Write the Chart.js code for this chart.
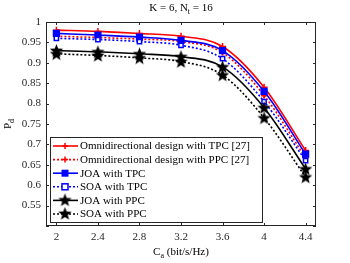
<!DOCTYPE html>
<html>
<head>
<meta charset="utf-8">
<script src="https://cdn.jsdelivr.net/npm/chart.js@4.4.0/dist/chart.umd.min.js"></script>
<style>
  html, body { margin: 0; padding: 0; background: #fff; }
  #wrap { width: 350px; height: 263px; }
</style>
</head>
<body>
<div id="wrap"><canvas id="canvas" width="350" height="263"></canvas></div>
<script>
const capacity = [2, 2.4, 2.8, 3.2, 3.6, 4, 4.4];
const omniTPC = [0.980, 0.977, 0.972, 0.965, 0.940, 0.840, 0.685];
const omniPPC = [0.965, 0.962, 0.958, 0.952, 0.925, 0.820, 0.667];
const joaTPC = [0.972, 0.968, 0.963, 0.955, 0.930, 0.830, 0.676];
const soaTPC = [0.960, 0.957, 0.952, 0.943, 0.910, 0.805, 0.660];
const joaPPC = [0.930, 0.927, 0.922, 0.915, 0.890, 0.790, 0.640];
const soaPPC = [0.922, 0.918, 0.912, 0.903, 0.870, 0.765, 0.620];
const xTicks = [2, 2.4, 2.8, 3.2, 3.6, 4, 4.4];

const FONT = '"Liberation Serif", "Times New Roman", serif';

// filled star marker (pentagram)
function makeStar(size, fill) {
    const c = document.createElement('canvas');
    c.width = size; c.height = size;
    const ctx = c.getContext('2d');
    const cx = size / 2, cy = size / 2 + 0.5;
    const ro = size / 2 - 0.5, ri = ro * 0.42;
    ctx.beginPath();
    for (let i = 0; i < 10; i++) {
        const r = i % 2 === 0 ? ro : ri;
        const a = -Math.PI / 2 + i * Math.PI / 5;
        ctx.lineTo(cx + r * Math.cos(a), cy + r * Math.sin(a));
    }
    ctx.closePath();
    ctx.fillStyle = fill;
    ctx.fill();
    return c;
}
const star = makeStar(15, '#000');

function toPoints(ys) {
    return capacity.map((x, i) => ({ x: x, y: ys[i] }));
}

const datasets = [
    { label: 'SOA with PPC', data: toPoints(soaPPC), borderColor: '#000', borderDash: [2, 2],
      pointStyle: star, legendMarker: 'star' },
    { label: 'JOA with PPC', data: toPoints(joaPPC), borderColor: '#000',
      pointStyle: star, legendMarker: 'star' },
    { label: 'SOA with TPC', data: toPoints(soaTPC), borderColor: '#0000ff', borderDash: [2, 2],
      pointStyle: 'rect', pointRadius: 3, pointBackgroundColor: '#fff', pointBorderColor: '#0000ff', pointBorderWidth: 1.5, legendMarker: 'openrect' },
    { label: 'JOA with TPC', data: toPoints(joaTPC), borderColor: '#0000ff',
      pointStyle: 'rect', pointRadius: 4, pointBackgroundColor: '#0000ff', pointBorderColor: '#0000ff', legendMarker: 'rect' },
    { label: 'Omnidirectional design with PPC [27]', data: toPoints(omniPPC), borderColor: '#ff0000', borderDash: [2, 2],
      pointStyle: 'cross', pointRadius: 3, pointBorderColor: '#ff0000', pointBorderWidth: 2, legendMarker: 'plus' },
    { label: 'Omnidirectional design with TPC [27]', data: toPoints(omniTPC), borderColor: '#ff0000',
      pointStyle: 'cross', pointRadius: 3.5, pointBorderColor: '#ff0000', pointBorderWidth: 1.5, legendMarker: 'plus' }
];
datasets.forEach(d => {
    d.borderWidth = 1.6;
    d.fill = false;
    d.cubicInterpolationMode = 'monotone';
    if (d.pointRadius === undefined) d.pointRadius = 7;
    if (!d.pointBackgroundColor) d.pointBackgroundColor = d.borderColor;
    if (!d.pointBorderColor) d.pointBorderColor = d.borderColor;
});

const legendOrder = [5, 4, 3, 2, 1, 0];

const decorPlugin = {
    id: 'decor',
    afterDraw(chart) {
        const ctx = chart.ctx;
        const a = chart.chartArea;
        const xs = chart.scales.x, ys = chart.scales.y;
        ctx.save();
        // axes box
        ctx.strokeStyle = '#262626';
        ctx.lineWidth = 1;
        ctx.strokeRect(a.left + 0.5, a.top + 0.5, a.right - a.left - 1, a.bottom - a.top - 1);
        // inward ticks
        ctx.beginPath();
        xTicks.forEach(v => {
            const px = Math.round(xs.getPixelForValue(v)) + 0.5;
            ctx.moveTo(px, a.bottom); ctx.lineTo(px, a.bottom - 3);
            ctx.moveTo(px, a.top); ctx.lineTo(px, a.top + 3);
        });
        for (let v = 0.5; v <= 1.0001; v += 0.05) {
            const py = Math.round(ys.getPixelForValue(v)) + 0.5;
            ctx.moveTo(a.left, py); ctx.lineTo(a.left + 3, py);
            ctx.moveTo(a.right, py); ctx.lineTo(a.right - 3, py);
        }
        ctx.stroke();

        // title and axis labels with subscripts
        ctx.fillStyle = '#000';
        ctx.textBaseline = 'alphabetic';
        const drawSub = (parts, cx, y) => {
            let w = 0;
            parts.forEach(p => { ctx.font = (p.sub ? '8px ' : '11px ') + FONT; w += ctx.measureText(p.t).width; });
            let x = cx - w / 2;
            parts.forEach(p => {
                ctx.font = (p.sub ? '8px ' : '11px ') + FONT;
                ctx.textAlign = 'left';
                ctx.fillText(p.t, x, y + (p.sub ? 3 : 0));
                x += ctx.measureText(p.t).width;
            });
        };
        drawSub([{ t: 'K = 6, N' }, { t: 't', sub: true }, { t: ' = 16' }], 181, 11);
        drawSub([{ t: 'C' }, { t: 'a', sub: true }, { t: ' (bit/s/Hz)' }], 181, 255);
        ctx.save();
        ctx.translate(11, 124);
        ctx.rotate(-Math.PI / 2);
        drawSub([{ t: 'P' }, { t: 'd', sub: true }], 0, 0);
        ctx.restore();

        // legend box
        const lx = 50, ly = 137, lw = 212, lh = 85;
        ctx.fillStyle = '#fff';
        ctx.fillRect(lx, ly, lw, lh);
        ctx.strokeStyle = '#262626';
        ctx.lineWidth = 1;
        ctx.strokeRect(lx + 0.5, ly + 0.5, lw, lh);
        ctx.font = '11px ' + FONT;
        ctx.textAlign = 'left';
        ctx.textBaseline = 'middle';
        legendOrder.forEach((idx, row) => {
            const d = datasets[idx];
            const y = ly + 9 + row * 13.6;
            ctx.save();
            ctx.strokeStyle = d.borderColor;
            ctx.lineWidth = 1.6;
            ctx.setLineDash(d.borderDash || []);
            ctx.beginPath();
            ctx.moveTo(lx + 3, y); ctx.lineTo(lx + 28, y);
            ctx.stroke();
            ctx.setLineDash([]);
            const mx = lx + 15;
            if (d.legendMarker === 'star') {
                ctx.drawImage(star, mx - 7.5, y - 8);
            } else if (d.legendMarker === 'rect') {
                ctx.fillStyle = d.borderColor;
                ctx.fillRect(mx - 3.5, y - 3.5, 7, 7);
            } else if (d.legendMarker === 'openrect') {
                ctx.fillStyle = '#fff';
                ctx.fillRect(mx - 3, y - 3, 6, 6);
                ctx.lineWidth = 1.5;
                ctx.strokeRect(mx - 3, y - 3, 6, 6);
            } else {
                ctx.lineWidth = 1.5;
                ctx.beginPath();
                ctx.moveTo(mx - 3, y); ctx.lineTo(mx + 3, y);
                ctx.moveTo(mx, y - 3); ctx.lineTo(mx, y + 3);
                ctx.stroke();
            }
            ctx.restore();
            ctx.fillStyle = '#000';
            ctx.fillText(d.label, lx + 30, y + 0.5);
        });
        ctx.restore();
    }
};

const config = {
    type: 'line',
    data: { datasets: datasets },
    plugins: [decorPlugin],
    options: {
        responsive: false,
        animation: false,
        layout: { padding: { top: 22, right: 34, left: 0, bottom: 0 } },
        plugins: {
            legend: { display: false },
            title: { display: false },
            tooltip: { enabled: false }
        },
        scales: {
            x: {
                type: 'linear',
                min: 1.9,
                max: 4.5,
                afterBuildTicks: s => { s.ticks = xTicks.map(v => ({ value: v })); },
                afterFit: s => { s.height = 37; },
                grid: { display: false, drawTicks: false },
                border: { display: false },
                ticks: {
                    color: '#262626',
                    padding: 5,
                    maxRotation: 0,
                    font: { family: FONT, size: 11 },
                    callback: v => String(v)
                }
            },
            y: {
                min: 0.5,
                max: 1,
                afterFit: s => { s.width = 46; },
                grid: { display: false, drawTicks: false },
                border: { display: false },
                ticks: {
                    stepSize: 0.05,
                    color: '#262626',
                    padding: 5,
                    font: { family: FONT, size: 11 },
                    callback: v => (v < 0.52 ? '' : String(Math.round(v * 100) / 100))
                }
            }
        }
    }
};

new Chart(document.getElementById('canvas'), config);
</script>
</body>
</html>
